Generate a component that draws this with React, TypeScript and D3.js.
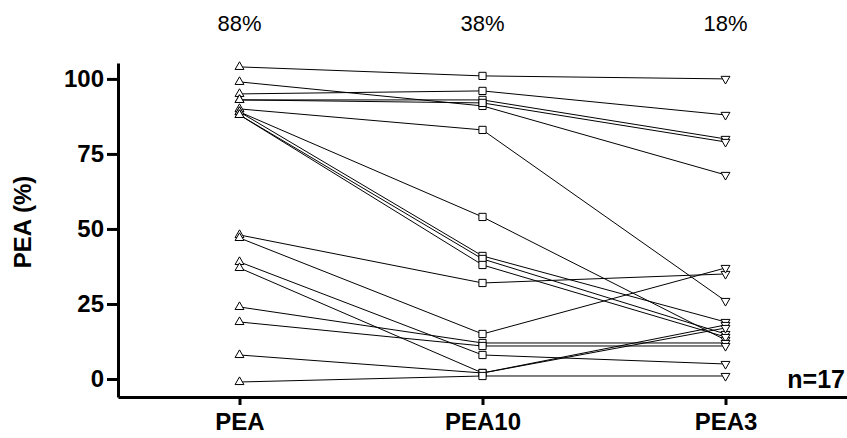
import * as d3 from "d3";
import { useEffect, useRef } from "react";

// columns of the graph
const categories = ["PEA", "PEA10", "PEA3"];
// percent at each column, one entry per subject
const peaValues = [104, 99, 95, 93, 93, 90, 89, 89, 88, 88, 48, 47, 39, 37, 24, 19, 8, -1];
const pea10Values = [101, 91, 96, 93, 92, 83, 54, 41, 40, 38, 32, 15, 8, 2, 12, 11, 2, 1];
const pea3Values = [100, 68, 88, 80, 79, 26, 13, 19, 15, 14, 35, 37, 5, 18, 12, 11, 17, 1];
// medians written above each column
const medianLabels = ["88%", "38%", "18%"];
const yTicks = [0, 25, 50, 75, 100];

const W = 847;
const H = 438;
const FONT = "'Liberation Sans', Arial, sans-serif";

function App() {
  const ref = useRef<SVGSVGElement>(null);

  useEffect(() => {
    const svg = d3.select(ref.current);
    svg.selectAll("*").remove();

    const x = d3.scalePoint().domain(categories).range([118, W]).padding(0.5);
    const y = d3.scaleLinear().domain([-6, 105.3]).range([397, 63]);

    const rows = peaValues.map((v, i) => [v, pea10Values[i], pea3Values[i]]);

    // y axis
    const ya = svg
      .append("g")
      .attr("transform", "translate(118,0)")
      .call(d3.axisLeft(y).tickValues(yTicks).tickSize(11).tickSizeOuter(0).tickPadding(3));
    ya.select(".domain").attr("stroke-width", 3).attr("stroke", "#000");
    ya.selectAll(".tick line").attr("stroke-width", 3).attr("stroke", "#000");
    ya.selectAll(".tick text")
      .attr("font-family", FONT)
      .attr("font-size", 24)
      .attr("font-weight", "bold")
      .attr("fill", "#000");

    // x axis
    const xa = svg
      .append("g")
      .attr("transform", "translate(0,397)")
      .call(d3.axisBottom(x).tickSize(8).tickSizeOuter(0).tickPadding(8));
    xa.select(".domain").attr("stroke-width", 3).attr("stroke", "#000");
    xa.selectAll(".tick line").attr("stroke-width", 3).attr("stroke", "#000");
    xa.selectAll(".tick text")
      .attr("font-family", FONT)
      .attr("font-size", 24)
      .attr("font-weight", "bold")
      .attr("fill", "#000");

    // subject lines
    const line = d3
      .line<number>()
      .x((d, i) => x(categories[i]) as number)
      .y((d) => y(d));

    svg
      .append("g")
      .selectAll("path")
      .data(rows)
      .join("path")
      .attr("d", (d) => line(d))
      .attr("fill", "none")
      .attr("stroke", "#000")
      .attr("stroke-width", 1);

    // markers
    const tri = d3.symbol(d3.symbolTriangle, 34);
    const sq = d3.symbol(d3.symbolSquare, 52);
    const markers = [
      { vals: peaValues, path: tri(), rot: 0 },
      { vals: pea10Values, path: sq(), rot: 0 },
      { vals: pea3Values, path: tri(), rot: 180 },
    ];
    markers.forEach((m, ci) => {
      svg
        .append("g")
        .selectAll("path")
        .data(m.vals)
        .join("path")
        .attr("d", m.path)
        .attr(
          "transform",
          (d) => `translate(${x(categories[ci])},${y(d)}) rotate(${m.rot})`
        )
        .attr("fill", "#fff")
        .attr("stroke", "#000")
        .attr("stroke-width", 1);
    });

    // median labels on top
    svg
      .append("g")
      .selectAll("text")
      .data(medianLabels)
      .join("text")
      .attr("x", (d, i) => x(categories[i]) as number)
      .attr("y", 31)
      .attr("text-anchor", "middle")
      .attr("font-family", FONT)
      .attr("font-size", 22)
      .text((d) => d);

    // y title
    svg
      .append("text")
      .attr("transform", "translate(31,222) rotate(-90)")
      .attr("text-anchor", "middle")
      .attr("font-family", FONT)
      .attr("font-size", 24)
      .attr("font-weight", "bold")
      .text("PEA (%)");

    svg
      .append("text")
      .attr("x", 845)
      .attr("y", 388)
      .attr("text-anchor", "end")
      .attr("font-family", FONT)
      .attr("font-size", 25)
      .attr("font-weight", "bold")
      .text("n=17");
  }, []);

  return (
    <svg
      ref={ref}
      width={W}
      height={H}
      style={{ position: "absolute", left: 0, top: 0, background: "#fff" }}
    />
  );
}

export default App;
